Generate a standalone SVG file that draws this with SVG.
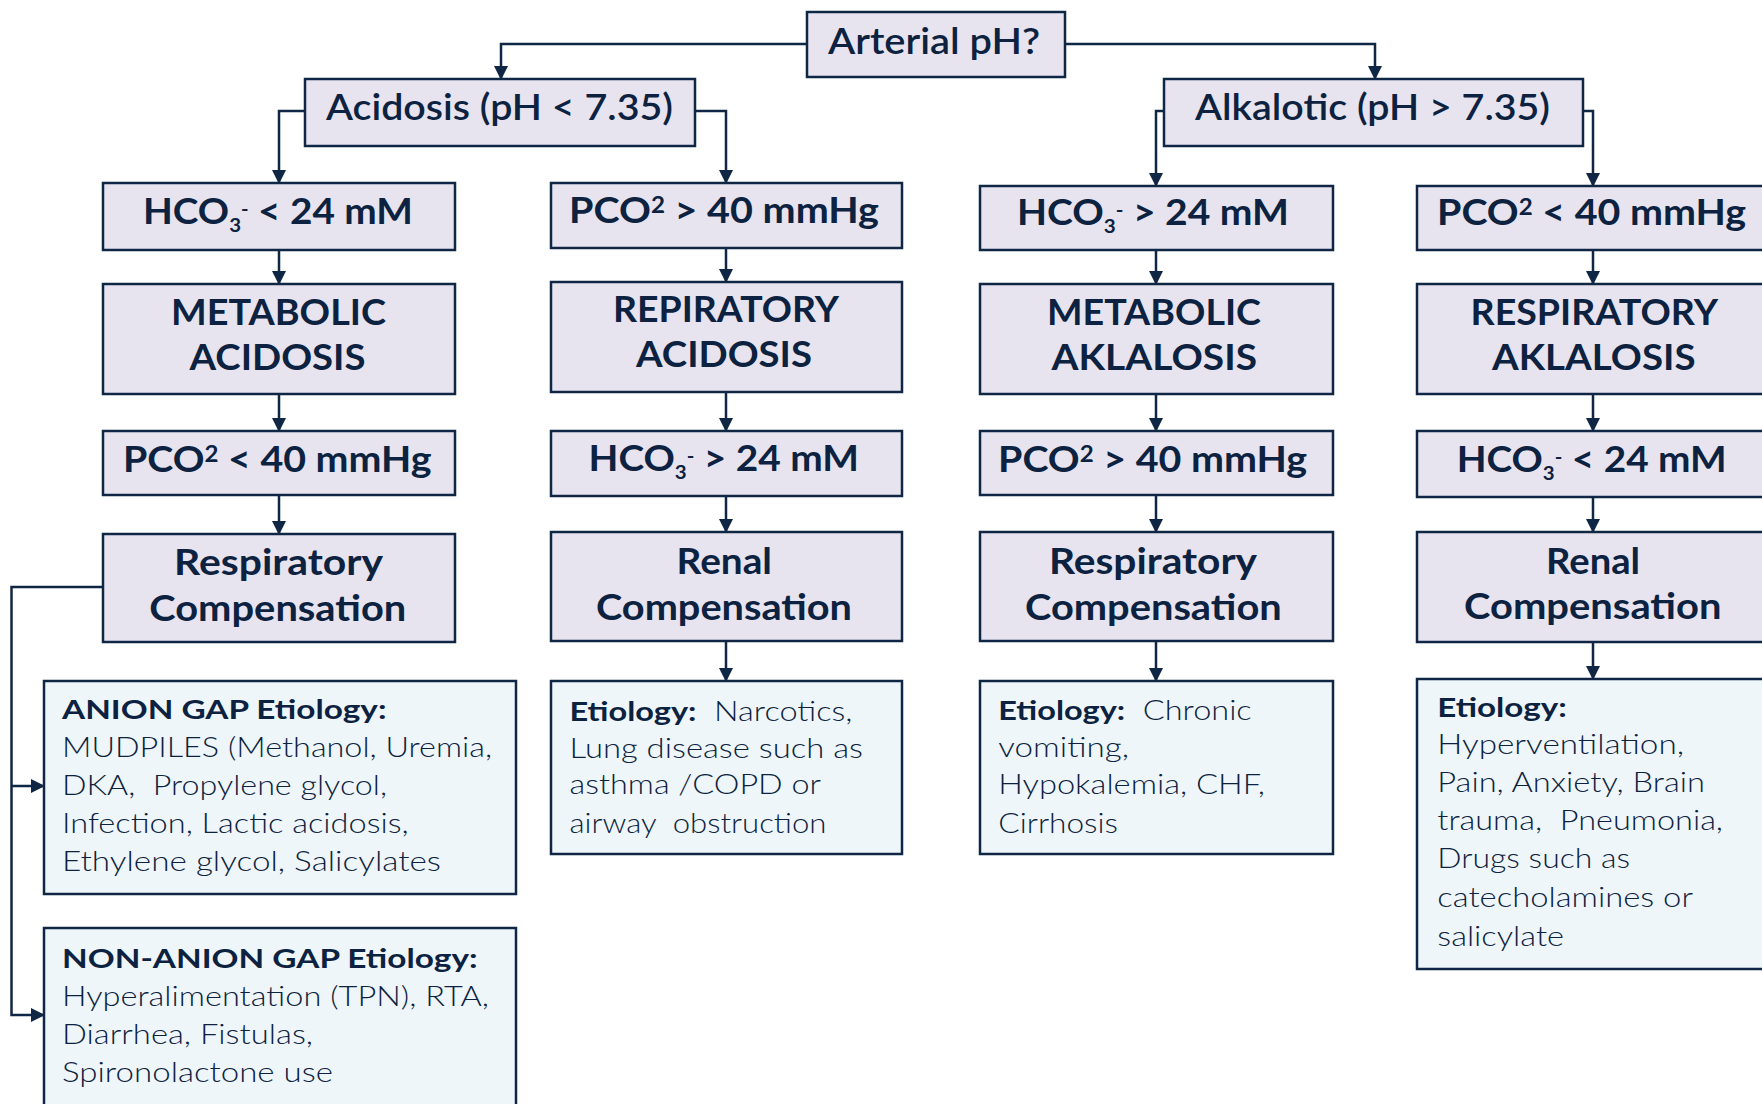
<svg xmlns="http://www.w3.org/2000/svg" width="1762" height="1104" viewBox="0 0 1762 1104">
<style>
.b{fill:#e7e4ef;stroke:#0f2644;stroke-width:2.5}
.e{fill:#eef6fa;stroke:#0f2644;stroke-width:2.5}
text{font-family:Lato,"Noto Sans","Liberation Sans",sans-serif;fill:#0c2240}
.h{font-size:37px;font-weight:600}
.t{font-size:36px;font-weight:700}
.r{font-size:27px;font-weight:300}
.bd{font-weight:700}
.sm{font-size:19px}
.sp{font-size:22px}
.c{fill:none;stroke:#0f2644;stroke-width:2.5}
</style>
<defs>
<marker id="ah" markerUnits="userSpaceOnUse" markerWidth="14" markerHeight="14" viewBox="0 0 14 14" refX="13" refY="7" orient="auto">
<path d="M0,0 L14,7 L0,14 z" fill="#0f2644"/>
</marker>
</defs>
<rect width="1762" height="1104" fill="#ffffff"/>

<g id="connectors">
<path class="c" marker-end="url(#ah)" d="M807,44 H501 V79"/>
<path class="c" marker-end="url(#ah)" d="M1065,44 H1375 V79"/>
<path class="c" marker-end="url(#ah)" d="M305,111 H279 V183"/>
<path class="c" marker-end="url(#ah)" d="M695,111 H726 V183"/>
<path class="c" marker-end="url(#ah)" d="M1164,111 H1156 V186"/>
<path class="c" marker-end="url(#ah)" d="M1583,111 H1593 V186"/>
<path class="c" marker-end="url(#ah)" d="M279,250 V284"/>
<path class="c" marker-end="url(#ah)" d="M279,394 V431"/>
<path class="c" marker-end="url(#ah)" d="M279,495 V534"/>
<path class="c" marker-end="url(#ah)" d="M726,248 V282"/>
<path class="c" marker-end="url(#ah)" d="M726,392 V431"/>
<path class="c" marker-end="url(#ah)" d="M726,496 V532"/>
<path class="c" marker-end="url(#ah)" d="M726,641 V681"/>
<path class="c" marker-end="url(#ah)" d="M1156,250 V284"/>
<path class="c" marker-end="url(#ah)" d="M1156,394 V431"/>
<path class="c" marker-end="url(#ah)" d="M1156,495 V532"/>
<path class="c" marker-end="url(#ah)" d="M1156,641 V681"/>
<path class="c" marker-end="url(#ah)" d="M1593,250 V284"/>
<path class="c" marker-end="url(#ah)" d="M1593,394 V431"/>
<path class="c" marker-end="url(#ah)" d="M1593,497 V532"/>
<path class="c" marker-end="url(#ah)" d="M1593,642 V679"/>
<path class="c" marker-end="url(#ah)" d="M103,587 H11.5 V1015 H44"/>
<path class="c" marker-end="url(#ah)" d="M11.5,786 H44"/>
</g>

<g id="arterial">
<rect class="b" x="807" y="12" width="258" height="65"/>
<text class="h" x="828" y="54" textLength="212" lengthAdjust="spacingAndGlyphs">Arterial pH?</text>
</g>
<g id="acidosis">
<rect class="b" x="305" y="79" width="390" height="67"/>
<text class="h" x="326" y="120" textLength="347" lengthAdjust="spacingAndGlyphs">Acidosis (pH &lt; 7.35)</text>
</g>
<g id="alkalotic">
<rect class="b" x="1164" y="79" width="419" height="67"/>
<text class="h" x="1195" y="120" textLength="355" lengthAdjust="spacingAndGlyphs">Alkalotic (pH &gt; 7.35)</text>
</g>

<g id="c1r1">
<rect class="b" x="103" y="183" width="352" height="67"/>
<text class="t" x="143" y="224" textLength="270" lengthAdjust="spacingAndGlyphs">HCO<tspan class="sm" dy="8">3</tspan><tspan class="sm" dy="-16">-</tspan><tspan dy="8"> &lt; 24 mM</tspan></text>
</g>
<g id="c2r1">
<rect class="b" x="551" y="183" width="351" height="65"/>
<text class="t" x="569" y="223" textLength="310" lengthAdjust="spacingAndGlyphs">PCO<tspan class="sp" dy="-10">2</tspan><tspan dy="10"> &gt; 40 mmHg</tspan></text>
</g>
<g id="c3r1">
<rect class="b" x="980" y="186" width="353" height="64"/>
<text class="t" x="1017" y="225" textLength="272" lengthAdjust="spacingAndGlyphs">HCO<tspan class="sm" dy="8">3</tspan><tspan class="sm" dy="-16">-</tspan><tspan dy="8"> &gt; 24 mM</tspan></text>
</g>
<g id="c4r1">
<rect class="b" x="1417" y="186" width="352" height="64"/>
<text class="t" x="1437" y="225" textLength="309" lengthAdjust="spacingAndGlyphs">PCO<tspan class="sp" dy="-10">2</tspan><tspan dy="10"> &lt; 40 mmHg</tspan></text>
</g>

<g id="c1r2">
<rect class="b" x="103" y="284" width="352" height="110"/>
<text class="t" x="171" y="325" textLength="215" lengthAdjust="spacingAndGlyphs">METABOLIC</text>
<text class="t" x="189.5" y="370" textLength="176" lengthAdjust="spacingAndGlyphs">ACIDOSIS</text>
</g>
<g id="c2r2">
<rect class="b" x="551" y="282" width="351" height="110"/>
<text class="t" x="613" y="322" textLength="226" lengthAdjust="spacingAndGlyphs">REPIRATORY</text>
<text class="t" x="636" y="367" textLength="176" lengthAdjust="spacingAndGlyphs">ACIDOSIS</text>
</g>
<g id="c3r2">
<rect class="b" x="980" y="284" width="353" height="110"/>
<text class="t" x="1047" y="325" textLength="214" lengthAdjust="spacingAndGlyphs">METABOLIC</text>
<text class="t" x="1051.5" y="370" textLength="205.5" lengthAdjust="spacingAndGlyphs">AKLALOSIS</text>
</g>
<g id="c4r2">
<rect class="b" x="1417" y="284" width="352" height="110"/>
<text class="t" x="1470.5" y="325" textLength="247.5" lengthAdjust="spacingAndGlyphs">RESPIRATORY</text>
<text class="t" x="1492" y="370" textLength="203.5" lengthAdjust="spacingAndGlyphs">AKLALOSIS</text>
</g>

<g id="c1r3">
<rect class="b" x="103" y="431" width="352" height="64"/>
<text class="t" x="123" y="472" textLength="308.5" lengthAdjust="spacingAndGlyphs">PCO<tspan class="sp" dy="-10">2</tspan><tspan dy="10"> &lt; 40 mmHg</tspan></text>
</g>
<g id="c2r3">
<rect class="b" x="551" y="431" width="351" height="65"/>
<text class="t" x="588.5" y="471" textLength="270.5" lengthAdjust="spacingAndGlyphs">HCO<tspan class="sm" dy="8">3</tspan><tspan class="sm" dy="-16">-</tspan><tspan dy="8"> &gt; 24 mM</tspan></text>
</g>
<g id="c3r3">
<rect class="b" x="980" y="431" width="353" height="64"/>
<text class="t" x="998" y="472" textLength="309" lengthAdjust="spacingAndGlyphs">PCO<tspan class="sp" dy="-10">2</tspan><tspan dy="10"> &gt; 40 mmHg</tspan></text>
</g>
<g id="c4r3">
<rect class="b" x="1417" y="431" width="352" height="66"/>
<text class="t" x="1456.7" y="472" textLength="270" lengthAdjust="spacingAndGlyphs">HCO<tspan class="sm" dy="8">3</tspan><tspan class="sm" dy="-16">-</tspan><tspan dy="8"> &lt; 24 mM</tspan></text>
</g>

<g id="c1r4">
<rect class="b" x="103" y="534" width="352" height="108"/>
<text class="t" x="174" y="575" textLength="209" lengthAdjust="spacingAndGlyphs">Respiratory</text>
<text class="t" x="149.3" y="620.6" textLength="257" lengthAdjust="spacingAndGlyphs">Compensation</text>
</g>
<g id="c2r4">
<rect class="b" x="551" y="532" width="351" height="109"/>
<text class="t" x="676.6" y="574" textLength="95.4" lengthAdjust="spacingAndGlyphs">Renal</text>
<text class="t" x="596" y="620" textLength="256" lengthAdjust="spacingAndGlyphs">Compensation</text>
</g>
<g id="c3r4">
<rect class="b" x="980" y="532" width="353" height="109"/>
<text class="t" x="1049" y="574" textLength="208" lengthAdjust="spacingAndGlyphs">Respiratory</text>
<text class="t" x="1025" y="620" textLength="256.7" lengthAdjust="spacingAndGlyphs">Compensation</text>
</g>
<g id="c4r4">
<rect class="b" x="1417" y="532" width="352" height="110"/>
<text class="t" x="1546" y="574" textLength="94" lengthAdjust="spacingAndGlyphs">Renal</text>
<text class="t" x="1464" y="619" textLength="257.5" lengthAdjust="spacingAndGlyphs">Compensation</text>
</g>

<g id="anion-gap">
<rect class="e" x="44" y="681" width="472" height="213"/>
<text class="r bd" x="62" y="719" textLength="324.5" lengthAdjust="spacingAndGlyphs">ANION GAP Etiology:</text>
<text class="r" x="62" y="757" textLength="430" lengthAdjust="spacingAndGlyphs">MUDPILES (Methanol, Uremia,</text>
<text class="r" x="62" y="795" textLength="325" lengthAdjust="spacingAndGlyphs" xml:space="preserve">DKA,  Propylene glycol,</text>
<text class="r" x="62" y="833" textLength="346.7" lengthAdjust="spacingAndGlyphs">Infection, Lactic acidosis,</text>
<text class="r" x="62" y="871" textLength="379" lengthAdjust="spacingAndGlyphs">Ethylene glycol, Salicylates</text>
</g>
<g id="non-anion-gap">
<rect class="e" x="44" y="928" width="472" height="190"/>
<text class="r bd" x="62" y="968" textLength="415.6" lengthAdjust="spacingAndGlyphs">NON-ANION GAP Etiology:</text>
<text class="r" x="62" y="1006" textLength="427" lengthAdjust="spacingAndGlyphs">Hyperalimentation (TPN), RTA,</text>
<text class="r" x="62" y="1044" textLength="251" lengthAdjust="spacingAndGlyphs">Diarrhea, Fistulas,</text>
<text class="r" x="62" y="1082" textLength="271" lengthAdjust="spacingAndGlyphs">Spironolactone use</text>
</g>
<g id="etiology-resp-acidosis">
<rect class="e" x="551" y="681" width="351" height="173"/>
<text class="r" x="569.5" y="721" textLength="283" lengthAdjust="spacingAndGlyphs" xml:space="preserve"><tspan class="bd">Etiology:</tspan>  Narcotics,</text>
<text class="r" x="569.5" y="758" textLength="293.5" lengthAdjust="spacingAndGlyphs">Lung disease such as</text>
<text class="r" x="569.5" y="794" textLength="251.5" lengthAdjust="spacingAndGlyphs">asthma /COPD or</text>
<text class="r" x="569.5" y="833" textLength="257" lengthAdjust="spacingAndGlyphs" xml:space="preserve">airway  obstruction</text>
</g>
<g id="etiology-met-alkalosis">
<rect class="e" x="980" y="681" width="353" height="173"/>
<text class="r" x="998.3" y="720" textLength="253.4" lengthAdjust="spacingAndGlyphs" xml:space="preserve"><tspan class="bd">Etiology:</tspan>  Chronic</text>
<text class="r" x="998.3" y="757" textLength="130.7" lengthAdjust="spacingAndGlyphs">vomiting,</text>
<text class="r" x="998.3" y="794" textLength="266.7" lengthAdjust="spacingAndGlyphs">Hypokalemia, CHF,</text>
<text class="r" x="998.3" y="833" textLength="119.7" lengthAdjust="spacingAndGlyphs">Cirrhosis</text>
</g>
<g id="etiology-resp-alkalosis">
<rect class="e" x="1417" y="679" width="352" height="290"/>
<text class="r bd" x="1437.3" y="717" textLength="129.4" lengthAdjust="spacingAndGlyphs">Etiology:</text>
<text class="r" x="1437.3" y="754" textLength="246.7" lengthAdjust="spacingAndGlyphs">Hyperventilation,</text>
<text class="r" x="1437.3" y="792" textLength="267.7" lengthAdjust="spacingAndGlyphs">Pain, Anxiety, Brain</text>
<text class="r" x="1437.3" y="830" textLength="285.7" lengthAdjust="spacingAndGlyphs" xml:space="preserve">trauma,  Pneumonia,</text>
<text class="r" x="1437.3" y="868" textLength="192.7" lengthAdjust="spacingAndGlyphs">Drugs such as</text>
<text class="r" x="1437.3" y="907" textLength="255.7" lengthAdjust="spacingAndGlyphs">catecholamines or</text>
<text class="r" x="1437.3" y="946" textLength="126.7" lengthAdjust="spacingAndGlyphs">salicylate</text>
</g>
</svg>
